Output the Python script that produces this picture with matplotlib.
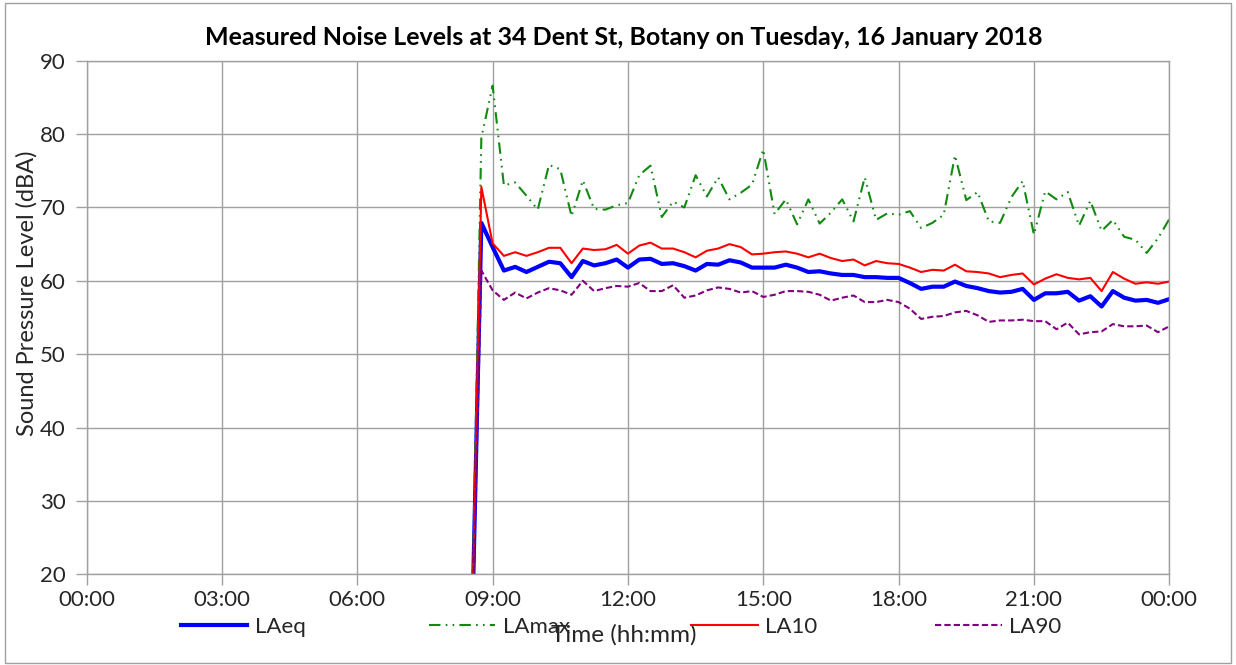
"""
Measured noise levels at 34 Dent St, Botany - 15 minute statistics for 16 January 2018
"""
import matplotlib
matplotlib.use("Agg")
import matplotlib.pyplot as plt
import matplotlib.dates as mdates
from matplotlib.patches import Rectangle
import pandas as pd

plt.rcParams['font.family'] = ['Lato', 'DejaVu Sans']

# 15 minute intervals, first reading at 08:30 logged as 0 (meter start-up)
start_time = "2018-01-16 08:30"

laeq = [0.0, 67.9, 64.6, 61.4, 61.9, 61.2, 61.9, 62.6, 62.4, 60.5, 62.7, 62.1, 62.4,
        62.9, 61.8, 62.9, 63.0, 62.3, 62.4, 62.0, 61.4, 62.3, 62.2, 62.8, 62.5,
        61.8, 61.8, 61.8, 62.2, 61.8, 61.2, 61.3, 61.0, 60.8, 60.8, 60.5, 60.5,
        60.4, 60.4, 59.7, 58.9, 59.2, 59.2, 59.9, 59.3, 59.0, 58.6, 58.4, 58.5,
        58.9, 57.4, 58.3, 58.3, 58.5, 57.3, 57.9, 56.5, 58.6, 57.7, 57.3, 57.4,
        57.0, 57.5]

lamax = [0.0, 79.5, 86.6, 73.0, 73.4, 71.6, 69.7, 75.8, 75.2, 68.8, 73.7, 69.8, 69.7,
         70.3, 70.6, 74.4, 75.7, 68.7, 70.8, 70.0, 74.4, 71.5, 74.1, 71.1, 72.0,
         73.1, 77.9, 69.1, 71.1, 67.7, 71.1, 67.8, 69.3, 71.1, 68.1, 74.1, 68.3,
         69.2, 69.0, 69.5, 67.2, 67.9, 69.0, 77.1, 71.0, 72.1, 68.1, 67.9, 71.4,
         73.6, 66.3, 72.2, 71.1, 72.1, 67.5, 70.9, 66.8, 68.3, 66.0, 65.6, 63.8,
         65.8, 68.4]

la10 = [0.0, 72.8, 65.1, 63.4, 63.9, 63.4, 63.9, 64.5, 64.5, 62.4, 64.4, 64.2, 64.3,
        64.9, 63.7, 64.8, 65.2, 64.4, 64.4, 63.9, 63.2, 64.1, 64.4, 65.0, 64.6,
        63.6, 63.7, 63.9, 64.0, 63.7, 63.2, 63.7, 63.1, 62.7, 62.9, 62.1, 62.7,
        62.4, 62.3, 61.8, 61.2, 61.5, 61.4, 62.2, 61.3, 61.2, 61.0, 60.5, 60.8,
        61.0, 59.5, 60.3, 60.9, 60.4, 60.2, 60.4, 58.6, 61.2, 60.3, 59.6, 59.8,
        59.6, 59.9]

la90 = [0.0, 61.4, 58.7, 57.4, 58.4, 57.6, 58.4, 59.0, 58.7, 58.1, 60.0, 58.6, 59.0,
        59.3, 59.2, 59.7, 58.6, 58.6, 59.4, 57.7, 58.0, 58.7, 59.1, 58.9, 58.4,
        58.6, 57.8, 58.1, 58.6, 58.6, 58.5, 58.1, 57.3, 57.7, 58.0, 57.1, 57.1,
        57.4, 57.1, 56.2, 54.8, 55.1, 55.2, 55.7, 55.9, 55.3, 54.4, 54.6, 54.6,
        54.7, 54.5, 54.5, 53.4, 54.3, 52.7, 53.0, 53.1, 54.1, 53.8, 53.8, 53.9,
        53.0, 53.8]

series_names = ["LAeq", "LAmax", "LA10", "LA90"]


def main():
    times = pd.date_range(start_time, periods=len(laeq), freq="15min")

    fig = plt.figure(figsize=(12.36, 6.65), dpi=100)
    ax = fig.add_axes([0.0701, 0.1364, 0.8759, 0.7723])

    l_eq, = ax.plot(times, laeq, color="#0000ff", lw=3.0, solid_joinstyle="round")
    l_max, = ax.plot(times, lamax, color="#108a10", lw=1.5)
    l_max.set_dashes((5.5, 2.5, 0.8, 2.5, 0.8, 2.5))
    l_10, = ax.plot(times, la10, color="#ff0000", lw=1.5)
    l_90, = ax.plot(times, la90, color="#800080", lw=1.5)
    l_90.set_dashes((3, 1.5))

    ax.set_xlim(pd.Timestamp("2018-01-16 00:00"), pd.Timestamp("2018-01-17 00:00"))
    ax.set_ylim(20, 90)
    ax.set_yticks(range(20, 91, 10))
    ax.xaxis.set_major_locator(mdates.HourLocator(byhour=range(0, 24, 3)))
    ax.xaxis.set_major_formatter(mdates.DateFormatter("%H:%M"))

    ax.grid(True, color="#a0a0a0", lw=1.0)
    ax.set_axisbelow(True)
    for side in ["left", "right", "top", "bottom"]:
        ax.spines[side].set_color("#a0a0a0")
        ax.spines[side].set_linewidth(1.0)
    ax.tick_params(axis="both", colors="#a0a0a0", labelcolor="#262626",
                   labelsize=16, length=8, width=1.0)
    ax.tick_params(axis="x", pad=3)
    ax.tick_params(axis="y", pad=7)

    fig.text(0.505, 0.943, "Measured Noise Levels at 34 Dent St, Botany on Tuesday, 16 January 2018",
             ha="center", va="center", fontsize=18, fontweight="bold", color="#000000")
    fig.text(0.022, 0.559, "Sound Pressure Level (dBA)", rotation=90,
             ha="center", va="center", fontsize=17, color="#262626")
    fig.text(0.505, 0.046, "Time (hh:mm)", ha="center", va="center",
             fontsize=17.5, color="#262626")

    # legend entries spread along the bottom like the spreadsheet original
    legend_x = [0.1461, 0.3467, 0.559, 0.7565]
    for line, name, lx in zip([l_eq, l_max, l_10, l_90], series_names, legend_x):
        fig.legend([line], [name], loc="center left", bbox_to_anchor=(lx, 0.057),
                   frameon=False, fontsize=16, handlelength=3.0, handletextpad=0.35,
                   borderpad=0, borderaxespad=0, labelcolor="#262626")

    fig.patches.append(Rectangle((0.004, 0.003), 0.992, 0.992, transform=fig.transFigure,
                                 fill=False, edgecolor="#a0a0a0", lw=1.0))

    fig.savefig("out.png", dpi=100)


main()
